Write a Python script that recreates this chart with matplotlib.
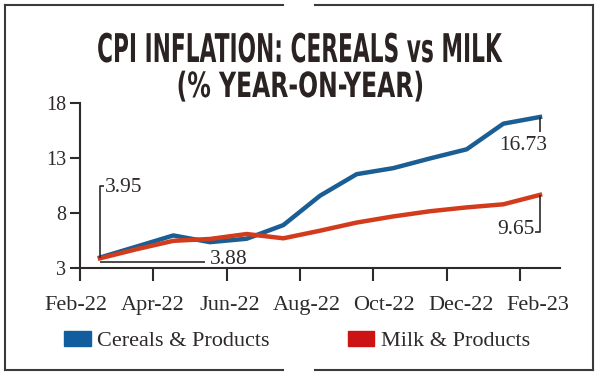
import matplotlib
matplotlib.use('Agg')
import matplotlib.pyplot as plt
import numpy as np
from matplotlib.lines import Line2D
from matplotlib.patches import Patch
from matplotlib.patheffects import AbstractPathEffect
from matplotlib.transforms import Affine2D
from matplotlib import font_manager

months = ['Feb-22', 'Mar-22', 'Apr-22', 'May-22', 'Jun-22', 'Jul-22', 'Aug-22',
          'Sep-22', 'Oct-22', 'Nov-22', 'Dec-22', 'Jan-23', 'Feb-23']
cereals = [3.95, 4.95, 5.96, 5.35, 5.66, 6.90, 9.57, 11.53, 12.08, 12.96, 13.79, 16.12, 16.73]
milk = [3.88, 4.71, 5.47, 5.64, 6.09, 5.70, 6.39, 7.13, 7.69, 8.16, 8.51, 8.79, 9.65]
tick_labels = months[::2]
y_ticks = [3, 8, 13, 18]
series_names = ['Cereals & Products', 'Milk & Products']
title_lines = ['CPI INFLATION: CEREALS vs MILK', '(% YEAR-ON-YEAR)']

blue = '#1b5e94'
red = '#d23c1d'
dark = '#2d2a29'
serif = 'Liberation Serif'

names = {f.name for f in font_manager.fontManager.ttflist}
title_font = 'Liberation Sans Narrow' if 'Liberation Sans Narrow' in names else 'DejaVu Sans'


class Stretch(AbstractPathEffect):
    # make the glyphs taller about their baseline (condensed headline look)
    def __init__(self, sy):
        super().__init__()
        self.sy = sy

    def draw_path(self, renderer, gc, tpath, affine, rgbFace=None):
        by = affine.transform((0, 0))[1]
        tr = affine + Affine2D().translate(0, -by).scale(1, self.sy).translate(0, by)
        renderer.draw_path(gc, tpath, tr, rgbFace)


fig = plt.figure(figsize=(6, 3.76), dpi=100)
ax = fig.add_axes([80 / 600, 1 - 268 / 376, 480 / 600, 165 / 376])

x = np.arange(len(months))
ax.plot(x, cereals, color=blue, lw=3.2)
ax.plot(x, milk, color=red, lw=3.2)

ax.set_xlim(-0.545, 12.545)
ax.set_ylim(3, 18)
for s in ['top', 'right']:
    ax.spines[s].set_visible(False)
for s in ['left', 'bottom']:
    ax.spines[s].set_linewidth(1.5)
    ax.spines[s].set_color(dark)

ax.set_xticks(np.arange(0, 13, 2) - 0.545)
ax.set_xticklabels([])
ax.tick_params(axis='x', length=9.7, width=1.5, color=dark)
label_pos = np.arange(0, 13, 2) * 1.05 - 0.65
for p, lab in zip(label_pos, tick_labels):
    ax.text(p, -0.2545, lab, transform=ax.get_xaxis_transform(), ha='center',
            va='baseline', fontsize=16, family=serif, color=dark, clip_on=False)

ax.set_yticks(y_ticks)
ax.tick_params(axis='y', length=7, width=1.5, color=dark, pad=3,
               labelsize=14.5, labelcolor=dark)
for t in ax.get_yticklabels():
    t.set_family(serif)

# value call-outs
ln = dict(color=dark, lw=1.2, solid_capstyle='butt')
tx = dict(fontsize=15.5, family=serif, color=dark, va='baseline')
ax.plot([0.1, 0, 0], [10.5, 10.5, cereals[0]], **ln)
ax.text(0.14, 9.95, f'{cereals[0]:.2f}', ha='left', **tx)
ax.plot([0, 2.87], [3.57, 3.57], **ln)
ax.text(3.0, 3.33, f'{milk[0]:.2f}', ha='left', **tx)
ax.plot([12, 12], [cereals[-1], 15.4], **ln)
ax.text(12.19, 13.73, f'{cereals[-1]:.2f}', ha='right', **tx)
ax.plot([11.87, 12, 12], [6.3, 6.3, milk[-1]], **ln)
ax.text(11.86, 6.1, f'{milk[-1]:.2f}', ha='right', **tx)

handles = [Patch(color='#125d9d'), Patch(color='#cc1414')]
fig.legend(handles, series_names, loc='center left',
           bbox_to_anchor=(64 / 600, 1 - 341 / 376), frameon=False, ncol=2,
           handlelength=1.2, handleheight=0.65, handletextpad=0.3,
           columnspacing=3.5, borderpad=0, borderaxespad=0,
           prop={'family': serif, 'size': 16}, labelcolor=dark)

# headline: size set from the target width, then stretched up to the target height
heads = []
for line, yb, width, size in [(title_lines[0], 62, 405, 28.5),
                              (title_lines[1], 97, 248, 25)]:
    t = fig.text(0.5, 1 - yb / 376, line, ha='center', va='baseline',
                 fontsize=size, fontweight='bold', family=title_font, color='#2b2321')
    heads.append((t, width, size))
fig.canvas.draw()
r = fig.canvas.get_renderer()
for t, width, size in heads:
    fs = size * width / t.get_window_extent(r).width
    t.set_fontsize(fs)
    t.set_path_effects([Stretch(size / fs)])

# outer frame with the notch at the top and bottom
fl = dict(color='#3a3a3a', lw=1.5, transform=fig.transFigure)
x0, x1 = 5 / 600, 593 / 600
y0, y1 = 1 - 370 / 376, 1 - 5 / 376
g0, g1 = 283 / 600, 315 / 600
for yy in [y0, y1]:
    fig.add_artist(Line2D([x0, g0], [yy, yy], **fl))
    fig.add_artist(Line2D([g1, x1], [yy, yy], **fl))
fig.add_artist(Line2D([x0, x0], [y0, y1], **fl))
fig.add_artist(Line2D([x1, x1], [y0, y1], **fl))

fig.savefig('out.png', dpi=100)
